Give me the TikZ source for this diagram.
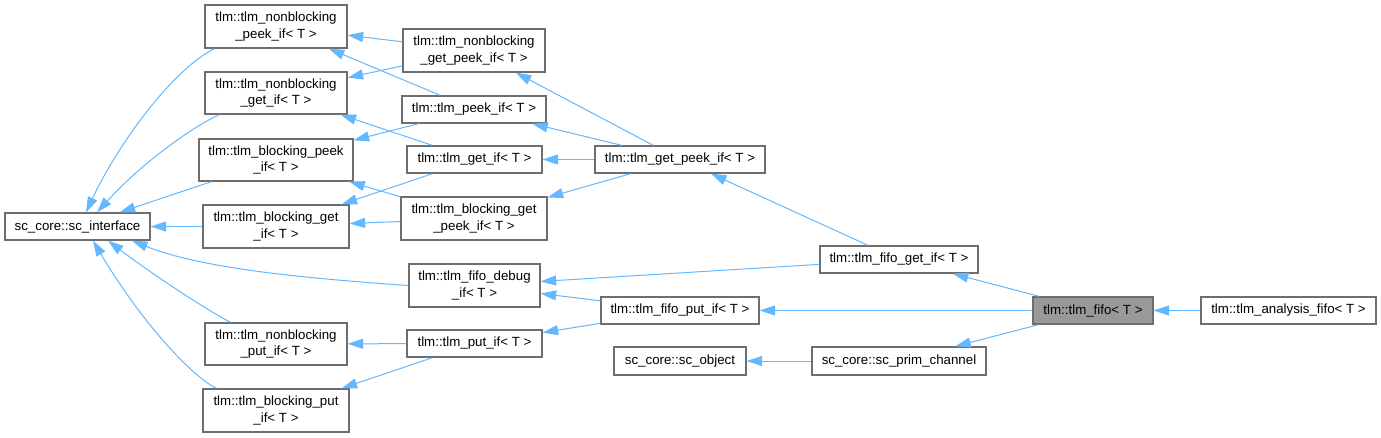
\documentclass[tikz,border=0pt]{standalone}
\usepackage{fontspec}
\setmainfont{Liberation Sans}
\usetikzlibrary{arrows.meta}
\definecolor{edgeblue}{RGB}{99,184,255}
\definecolor{boxgray}{RGB}{110,110,110}
\definecolor{fillgray}{RGB}{153,153,153}
\begin{document}
\begin{tikzpicture}[x=1pt,y=-1pt,
  box/.style={draw=boxgray, line width=1.3pt, fill=white, inner sep=0pt, align=center,
    font=\fontsize{13.3}{16.5}\selectfont},
  cur/.style={box, fill=fillgray},
  edge/.style={draw=edgeblue, line width=1pt, -{Triangle[length=15.5pt,width=10pt]}}]
\useasboundingbox (0,0) rectangle (1381,437);
\fill[white] (0,0) rectangle (1381,437);
% nodes
\node[box, minimum width=145, minimum height=27] (scif) at (77.5,226.5) {sc\_core::sc\_interface};
\node[box, minimum width=142, minimum height=43] (nbpeek) at (276,26.5) {tlm::tlm\_nonblocking\\\_peek\_if< T >};
\node[box, minimum width=142, minimum height=42] (nbget) at (276,93) {tlm::tlm\_nonblocking\\\_get\_if< T >};
\node[box, minimum width=154, minimum height=42] (bpeek) at (276,160) {tlm::tlm\_blocking\_peek\\\_if< T >};
\node[box, minimum width=146, minimum height=43] (bget) at (276,226.5) {tlm::tlm\_blocking\_get\\\_if< T >};
\node[box, minimum width=142, minimum height=42] (nbput) at (276,344) {tlm::tlm\_nonblocking\\\_put\_if< T >};
\node[box, minimum width=146, minimum height=43] (bput) at (276,410.5) {tlm::tlm\_blocking\_put\\\_if< T >};
\node[box, minimum width=142, minimum height=43] (nbgetpeek) at (474,50.5) {tlm::tlm\_nonblocking\\\_get\_peek\_if< T >};
\node[box, minimum width=144, minimum height=27] (peek) at (474,109.5) {tlm::tlm\_peek\_if< T >};
\node[box, minimum width=135, minimum height=27] (get) at (474.5,159.5) {tlm::tlm\_get\_if< T >};
\node[box, minimum width=146, minimum height=43] (bgetpeek) at (474,218.5) {tlm::tlm\_blocking\_get\\\_peek\_if< T >};
\node[box, minimum width=170, minimum height=27] (getpeek) at (680,159.5) {tlm::tlm\_get\_peek\_if< T >};
\node[box, minimum width=131, minimum height=43] (fifodebug) at (474.5,285.5) {tlm::tlm\_fifo\_debug\\\_if< T >};
\node[box, minimum width=135, minimum height=27] (put) at (474.5,343.5) {tlm::tlm\_put\_if< T >};
\node[box, minimum width=158, minimum height=27] (fifoput) at (680,310.5) {tlm::tlm\_fifo\_put\_if< T >};
\node[box, minimum width=132, minimum height=28] (scobj) at (680,361) {sc\_core::sc\_object};
\node[box, minimum width=158, minimum height=27] (fifoget) at (899,259.5) {tlm::tlm\_fifo\_get\_if< T >};
\node[box, minimum width=174, minimum height=28] (prim) at (899,361) {sc\_core::sc\_prim\_channel};
\node[cur, minimum width=120, minimum height=27] (fifo) at (1093,310.5) {tlm::tlm\_fifo< T >};
\node[box, minimum width=175, minimum height=27] (analysis) at (1288.5,310.5) {tlm::tlm\_analysis\_fifo< T >};
% edges into sc_interface
\draw[edge] ([xshift=10pt]nbpeek.south west) .. controls (175,68) and (120,140) .. ([xshift=8.5pt]scif.north);
\draw[edge] ([xshift=15pt]nbget.south west) .. controls (190,128) and (140,165) .. ([xshift=19.5pt]scif.north);
\draw[edge] (bpeek) -- (scif);
\draw[edge] (bget) -- (scif);
\draw[edge] (fifodebug.west) .. controls (300,278) and (200,268) .. ([xshift=54.5pt]scif.south);
\draw[edge] ([xshift=26pt]nbput.north west) .. controls (190,300) and (140,265) .. ([xshift=30.5pt]scif.south);
\draw[edge] ([xshift=14pt]bput.north west) .. controls (190,375) and (140,320) .. ([xshift=15.5pt]scif.south);
% other edges
\draw[edge] (nbgetpeek) -- (nbpeek);
\draw[edge] (nbgetpeek) -- (nbget);
\draw[edge] (peek) -- (nbpeek);
\draw[edge] (peek) -- (bpeek);
\draw[edge] (get) -- (nbget);
\draw[edge] (get) -- (bget);
\draw[edge] (bgetpeek) -- (bpeek);
\draw[edge] (bgetpeek) -- (bget);
\draw[edge] (getpeek) -- (nbgetpeek);
\draw[edge] (getpeek) -- (peek);
\draw[edge] (getpeek) -- (get);
\draw[edge] (getpeek) -- (bgetpeek);
\draw[edge] (fifoget) -- (getpeek);
\draw[edge] (fifoget) -- (fifodebug);
\draw[edge] (fifoput) -- (fifodebug);
\draw[edge] (fifoput) -- (put);
\draw[edge] (put) -- (nbput);
\draw[edge] (put) -- (bput);
\draw[edge] (fifo) -- (fifoget);
\draw[edge] (fifo) -- (fifoput);
\draw[edge] (fifo) -- (prim);
\draw[edge] (prim) -- (scobj);
\draw[edge] (analysis) -- (fifo);
\end{tikzpicture}
\end{document}
